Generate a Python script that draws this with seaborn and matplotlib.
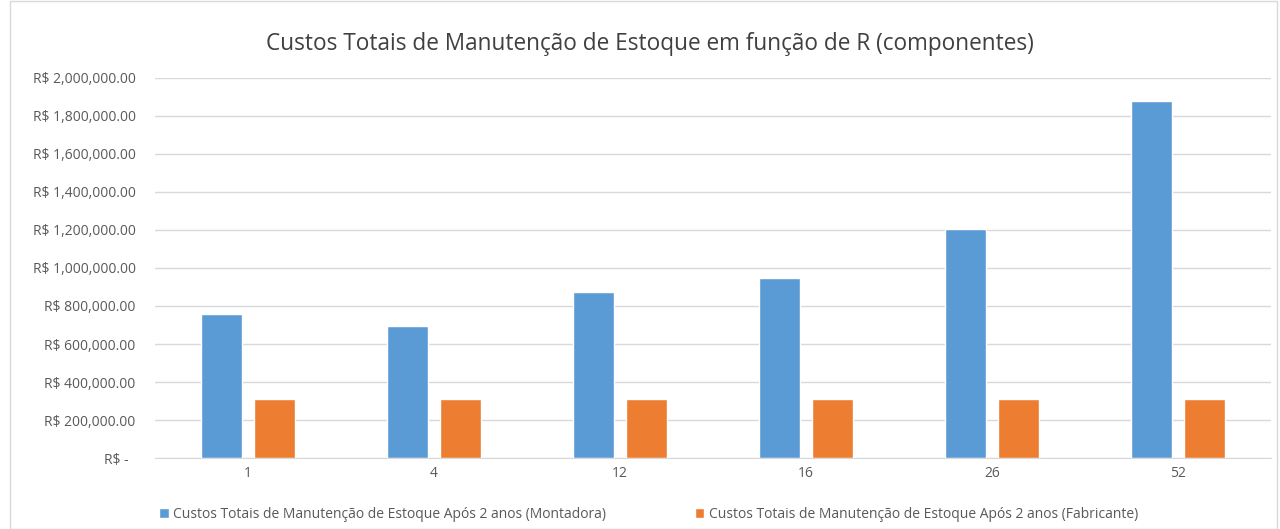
import matplotlib
matplotlib.use("Agg")
import matplotlib.pyplot as plt
from matplotlib.ticker import FuncFormatter, MultipleLocator
from matplotlib.patches import Rectangle
import seaborn as sns
import pandas as pd

# Data
r_values = ["1", "4", "12", "16", "26", "52"]
custo_montadora = [758000, 695000, 874000, 947000, 1205000, 1879000]
custo_fabricante = [310000, 310000, 310000, 310000, 310000, 310000]
series_names = [
    "Custos Totais de Manutenção de Estoque Após 2 anos (Montadora)",
    "Custos Totais de Manutenção de Estoque Após 2 anos (Fabricante)",
]
title = "Custos Totais de Manutenção de Estoque em função de R (componentes)"

df = pd.DataFrame({
    "R": r_values * 2,
    "custo": custo_montadora + custo_fabricante,
    "serie": [series_names[0]] * len(r_values) + [series_names[1]] * len(r_values),
})

sns.set_style("white")
plt.rcParams["font.family"] = ["Open Sans", "DejaVu Sans"]

fig = plt.figure(figsize=(12.8, 5.29), dpi=100)
ax = fig.add_axes([155 / 1280, 0.134, 1116 / 1280, 0.719])

sns.barplot(data=df, x="R", y="custo", hue="serie", order=r_values,
            palette=["#5b9bd5", "#ed7d31"], width=0.57, gap=0.21,
            saturation=1, ax=ax, legend=True)

ax.set_ylim(0, 2000000)
ax.yaxis.set_major_locator(MultipleLocator(200000))

def fmt(v, pos):
    if v == 0:
        return "R$ -  "
    return f"R$ {v:,.2f}"

ax.yaxis.set_major_formatter(FuncFormatter(fmt))
ax.grid(axis="y", color="#d9d9d9", linewidth=1)
ax.set_axisbelow(True)
for s in ["top", "right", "left"]:
    ax.spines[s].set_visible(False)
ax.spines["bottom"].set_color("#d9d9d9")
ax.tick_params(axis="both", length=0, labelsize=10, labelcolor="#595959")
ax.tick_params(axis="y", pad=14)
ax.tick_params(axis="x", pad=6)
ax.set_xlabel("")
ax.set_ylabel("")

fig.text(650 / 1280, 1 - 44 / 529, title, ha="center", va="center",
         fontsize=16.3, color="#404040")

handles, labels = ax.get_legend_handles_labels()
ax.legend_.remove()
fig.legend(handles, labels, loc="upper left", bbox_to_anchor=(152 / 1280, 1 - 500 / 529),
           ncol=2, frameon=False, fontsize=10, handlelength=0.7, handleheight=0.7,
           handletextpad=0.3, columnspacing=6.4, labelcolor="#595959", borderpad=0)

fig.patches.append(Rectangle((0.008, 0.0), 0.99, 0.998, transform=fig.transFigure,
                             fill=False, edgecolor="#d9d9d9", linewidth=1))

fig.savefig("out.png", dpi=100)
